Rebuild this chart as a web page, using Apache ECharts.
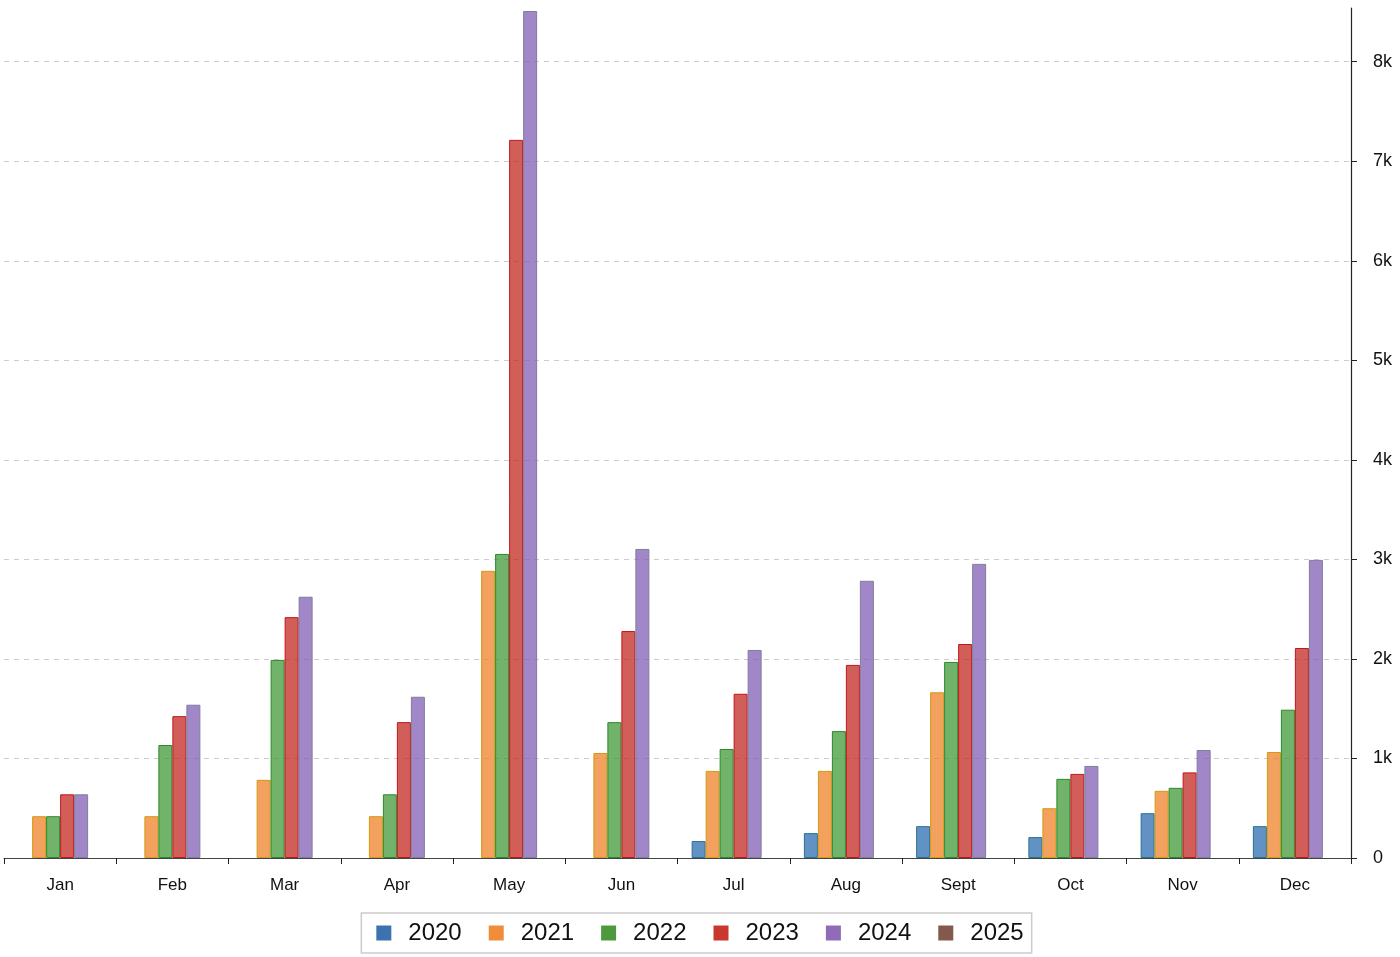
<!DOCTYPE html>
<html>
<head>
<meta charset="utf-8">
<style>html,body{margin:0;padding:0;background:#fff;}#c{width:1400px;height:957px;}</style>
<script src="https://cdn.jsdelivr.net/npm/echarts@6/dist/echarts.min.js"></script>
</head>
<body>
<div id="c"></div>
<script>
const months = ['Jan','Feb','Mar','Apr','May','Jun','Jul','Aug','Sept','Oct','Nov','Dec'];
const years = ['2020','2021','2022','2023','2024','2025'];
const s2020 = [null, null, null, null, null, null, 170, 250, 320, 210, 450, 320];
const s2021 = [420, 420, 785, 420, 2885, 1055, 875, 875, 1665, 500, 675, 1065];
const s2022 = [420, 1135, 1990, 640, 3055, 1365, 1095, 1275, 1970, 795, 705, 1490];
const s2023 = [640, 1425, 2420, 1365, 7215, 2280, 1650, 1940, 2150, 845, 860, 2110];
const s2024 = [640, 1540, 2625, 1620, 8510, 3105, 2090, 2785, 2955, 925, 1085, 2995];
const s2025 = [null, null, null, null, null, null, null, null, null, null, null, null];
const yTicks = ['0','1k','2k','3k','4k','5k','6k','7k','8k'];

const seriesData = [s2020, s2021, s2022, s2023, s2024, s2025];
const fills = ['rgba(31,100,170,0.7)','rgba(238,130,40,0.75)','rgba(60,150,50,0.72)','rgba(195,40,35,0.75)','rgba(130,95,180,0.75)','rgba(132,88,76,0.75)'];
const borders = ['#2b6f95','#d49a10','#2a8a2a','#c0161a','#7d7f9c','#6d4a40'];
const legendColors = ['#3d72b0','#f08c3a','#4c9a3c','#c8382e','#8f6bb8','#84584c'];

const chart = echarts.init(document.getElementById('c'));
chart.setOption({
  animation: false,
  textStyle: {fontFamily: 'Liberation Sans, Arial, sans-serif'},
  grid: {left: 4, right: 49, top: 8, bottom: 99, containLabel: false},
  legend: {
    bottom: 4,
    left: 'center',
    data: years.map((y, i) => ({name: y, itemStyle: {color: legendColors[i], borderWidth: 0}})),
    itemWidth: 15, itemHeight: 15, itemGap: 27,
    icon: 'rect',
    textStyle: {fontSize: 24, color: '#111', padding: [0, 0, 0, 12], fontFamily: 'Liberation Sans, Arial, sans-serif'},
    borderColor: '#cccccc', borderWidth: 1.5, padding: [8, 8, 8, 15]
  },
  xAxis: {
    type: 'category',
    data: months,
    axisLine: {show: true, lineStyle: {color: '#444', width: 1}},
    axisTick: {show: true, length: 6, lineStyle: {color: '#222'}},
    axisLabel: {fontSize: 17, color: '#111', margin: 19},
    splitLine: {show: false}
  },
  yAxis: {
    type: 'value',
    position: 'right',
    min: 0, max: 8540, interval: 1000,
    axisLine: {show: true, lineStyle: {color: '#222', width: 1.2}},
    axisTick: {show: true, length: 6, lineStyle: {color: '#222'}},
    axisLabel: {fontSize: 18, color: '#111', margin: 22, showMaxLabel: false,
      formatter: v => { const i = Math.round(v / 1000); return (v % 1000 === 0 && i < yTicks.length) ? yTicks[i] : ''; }},
    splitLine: {show: true, showMaxLine: false, lineStyle: {type: [5, 5], color: '#cccccc', width: 1}}
  },
  series: years.map((y, i) => ({
    name: y,
    type: 'bar',
    data: seriesData[i],
    barWidth: 14,
    barGap: '0%',
    itemStyle: {color: fills[i], borderColor: borders[i], borderWidth: 1}
  }))
});
</script>
</body>
</html>
